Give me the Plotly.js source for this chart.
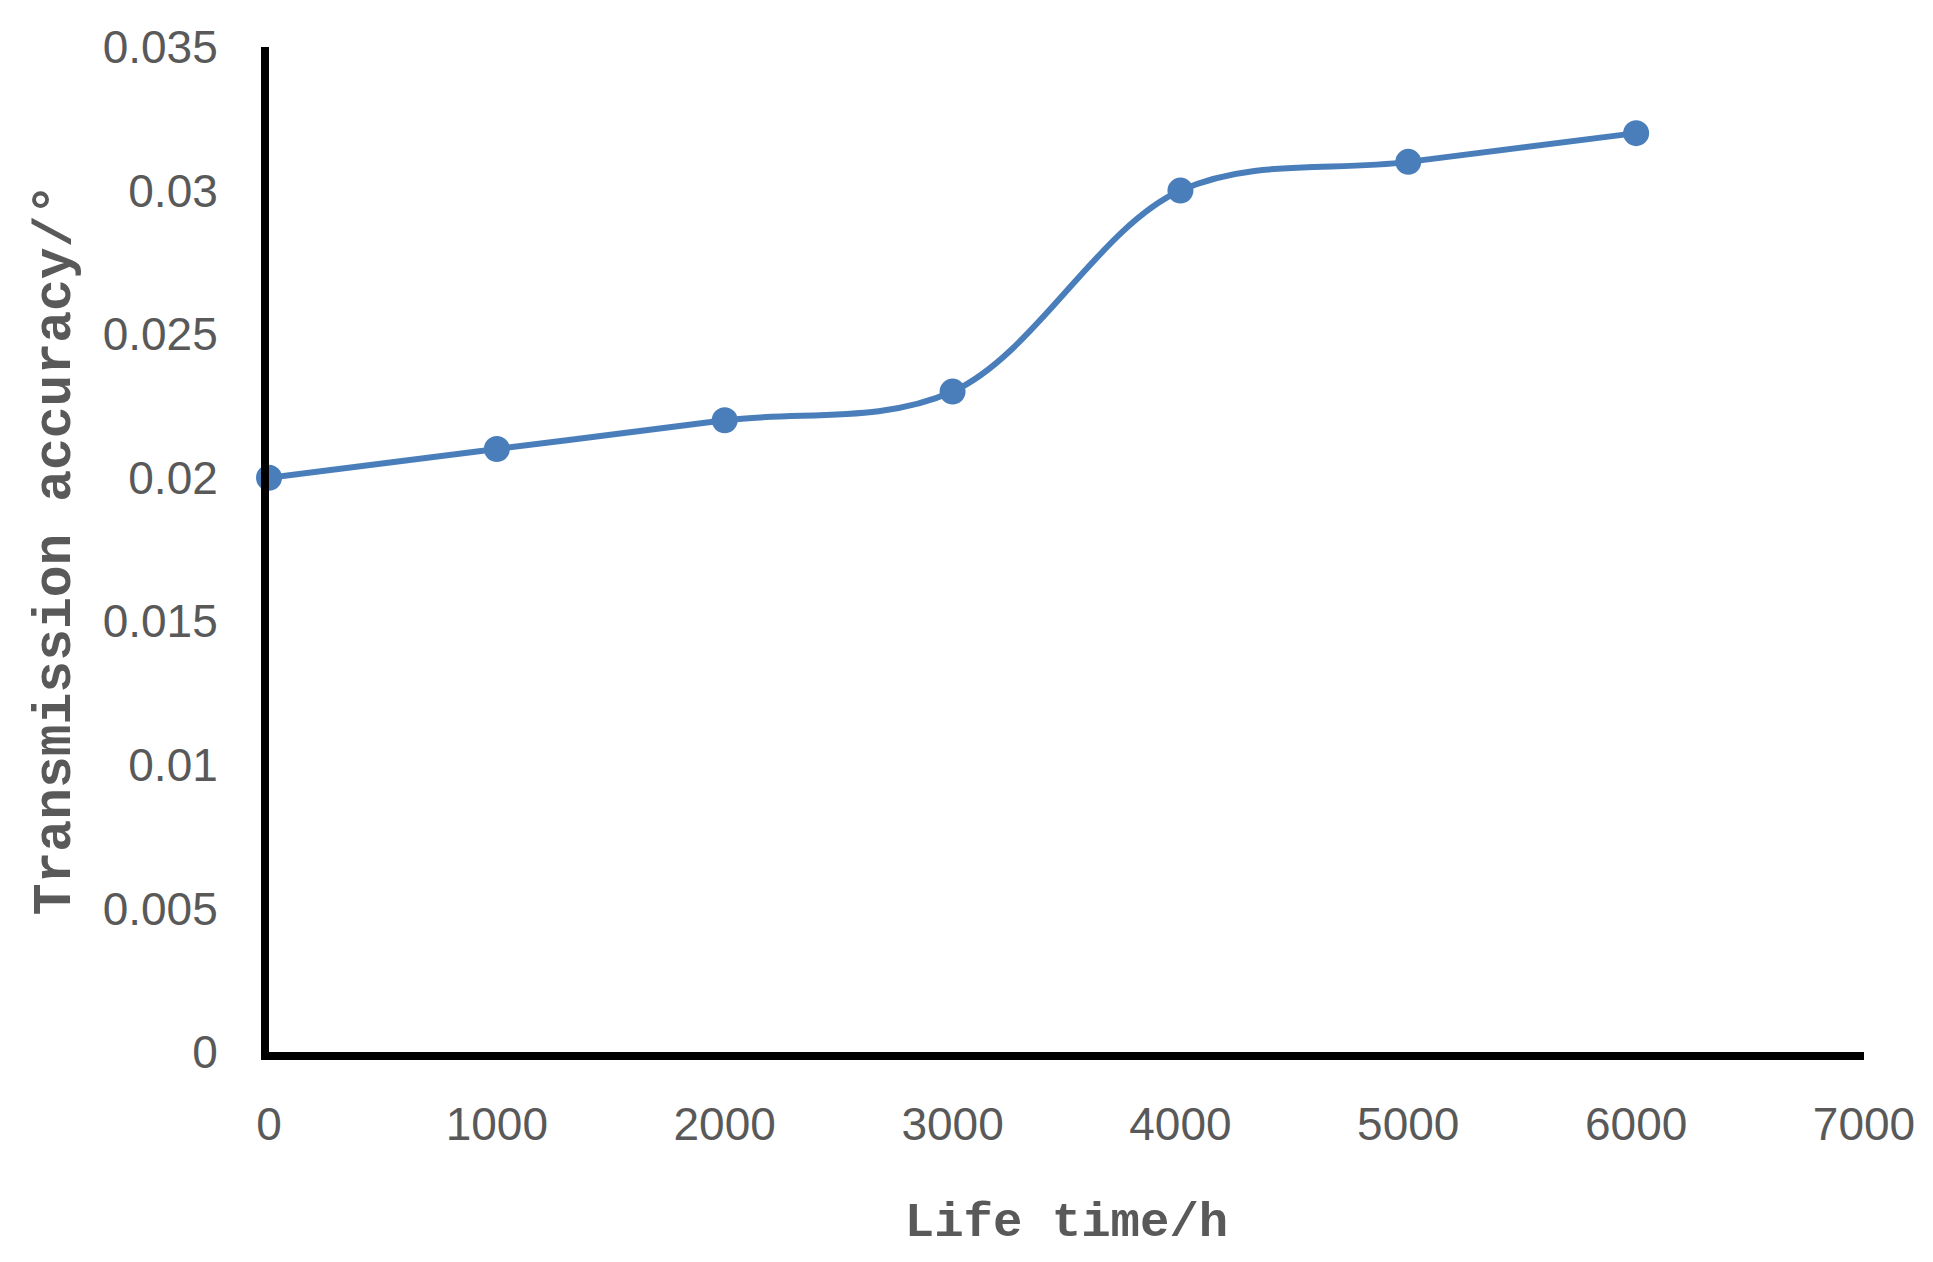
<!DOCTYPE html>
<html>
<head>
<meta charset="utf-8">
<script src="https://cdn.plot.ly/plotly-3.0.1.min.js"></script>
<style>html,body{margin:0;padding:0;background:#fff;}#chart{width:1933px;height:1262px;}</style>
</head>
<body>
<div id="chart"></div>
<script>
var lifeTime = [0, 1000, 2000, 3000, 4000, 5000, 6000];
var accuracy = [0.020, 0.021, 0.022, 0.023, 0.030, 0.031, 0.032];
var xTitle = "Life time/h";
var yTitle = "Transmission accuracy/°";

var trace = {
  x: lifeTime,
  y: accuracy,
  type: "scatter",
  mode: "lines+markers",
  line: {color: "#4a7ebb", width: 6, shape: "spline", smoothing: 1},
  marker: {color: "#4a7ebb", size: 26},
  cliponaxis: false,
  showlegend: false
};

var tickFont = {family: "Liberation Sans, Arial, sans-serif", size: 46, color: "#595959"};

var layout = {
  width: 1933, height: 1262,
  margin: {l: 269, r: 69, t: 47, b: 210},
  paper_bgcolor: "#fff", plot_bgcolor: "#fff",
  xaxis: {
    range: [0, 7000], dtick: 1000, tick0: 0,
    showgrid: false, zeroline: false,
    showline: true, linecolor: "#000", linewidth: 8,
    ticks: "", ticklen: 0, ticklabelstandoff: 25,
    tickfont: tickFont,
    title: {text: xTitle, font: {family: "Liberation Mono, Courier New, monospace", size: 49, color: "#595959", weight: "bold"}, standoff: 55}
  },
  yaxis: {
    range: [0, 0.035], dtick: 0.005, tick0: 0,
    showgrid: false, zeroline: false,
    showline: true, linecolor: "#000", linewidth: 8,
    ticks: "", ticklen: 0, ticklabelstandoff: 34,
    tickfont: tickFont,
    title: {text: yTitle, font: {family: "Liberation Mono, Courier New, monospace", size: 53, color: "#595959", weight: "bold"}, standoff: 18}
  }
};

Plotly.newPlot("chart", [trace], layout, {displayModeBar: false, staticPlot: true});
</script>
</body>
</html>
